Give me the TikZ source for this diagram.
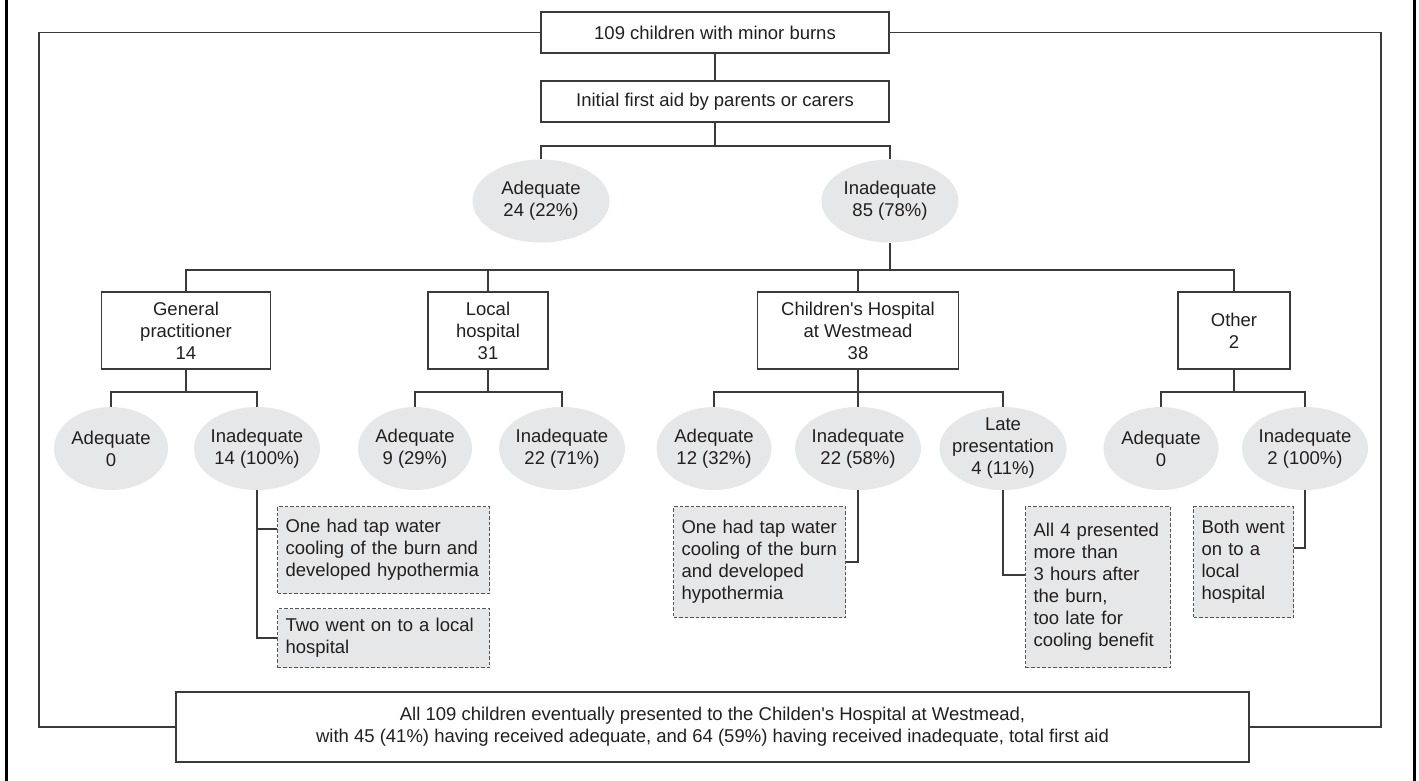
\documentclass[tikz,border=0pt]{standalone}
\usepackage{fontspec}
\setmainfont{Liberation Sans}
\usetikzlibrary{shapes.geometric}
\definecolor{linec}{HTML}{3A3A3A}
\definecolor{fillg}{HTML}{E6E7E8}
\definecolor{txtc}{HTML}{231F20}
\definecolor{dashc}{HTML}{555555}
\begin{document}
\begin{tikzpicture}[x=1pt,y=-1pt,
  every node/.style={font=\fontsize{18.5}{22}\selectfont, text=txtc},
  box/.style={rectangle, draw=linec, line width=1.5pt, fill=white, inner sep=0pt, align=center},
  oval/.style={ellipse, fill=fillg, inner sep=-6pt, minimum height=83pt, align=center},
  note/.style={rectangle, draw=dashc, line width=1.1pt, dash pattern=on 3.5pt off 2pt, fill=fillg, inner xsep=8pt, inner ysep=0pt, align=left, anchor=north west},
  conn/.style={draw=linec, line width=1.3pt},
  loopline/.style={draw=linec, line width=1.8pt},
]
\useasboundingbox (0,0) rectangle (1419,781);
\fill[white] (0,0) rectangle (1419,781);

% outer frame
\draw[black, line width=3pt] (6,0) -- (6,781);
\draw[black, line width=3pt] (1414.5,0) -- (1414.5,781);

% top boxes
\node[box, minimum width=348pt, minimum height=41pt] (top) at (715,32.5) {109 children with minor burns};
\node[box, minimum width=348pt, minimum height=41pt] (first) at (715,101.5) {Initial first aid by parents or carers};

% level 1 ovals
\node[oval, minimum width=137pt] (adq) at (541,201) {Adequate\\24 (22\%)};
\node[oval, minimum width=137pt] (inadq) at (890,201) {Inadequate\\85 (78\%)};

% destination boxes
\node[box, minimum width=169pt, minimum height=77pt] (gp) at (186,330.5) {General\\practitioner\\14};
\node[box, minimum width=120pt, minimum height=77pt] (lh) at (488,330.5) {Local\\hospital\\31};
\node[box, minimum width=201pt, minimum height=77pt] (chw) at (858,330.5) {Children\textquotesingle s Hospital\\at Westmead\\38};
\node[box, minimum width=112pt, minimum height=77pt] (oth) at (1234,330.5) {Other\\2};

% level 2 ovals
\node[oval, minimum width=114pt] (gpA) at (111,448.5) {Adequate\\0};
\node[oval, minimum width=126pt] (gpI) at (257,448.5) {Inadequate\\14 (100\%)};
\node[oval, minimum width=114pt] (lhA) at (415,448.5) {Adequate\\9 (29\%)};
\node[oval, minimum width=126pt] (lhI) at (562,448.5) {Inadequate\\22 (71\%)};
\node[oval, minimum width=115pt] (chA) at (714,448.5) {Adequate\\12 (32\%)};
\node[oval, minimum width=126pt] (chI) at (858,448.5) {Inadequate\\22 (58\%)};
\node[oval, minimum width=126pt] (chL) at (1003,448.5) {Late\\presentation\\4 (11\%)};
\node[oval, minimum width=115pt] (otA) at (1161,448.5) {Adequate\\0};
\node[oval, minimum width=126pt] (otI) at (1305,448.5) {Inadequate\\2 (100\%)};

% notes
\node[note, text width=196pt, minimum height=87pt] (n1) at (277,506) {One had tap water\\cooling of the burn and\\developed hypothermia};
\node[note, text width=196pt, minimum height=59pt] (n2) at (277,608) {Two went on to a local\\hospital};
\node[note, text width=156pt, minimum height=111pt] (n3) at (673,506) {One had tap water\\cooling of the burn\\and developed\\hypothermia};
\node[note, text width=129pt, minimum height=161pt] (n4) at (1025,506) {All 4 presented\\more than\\3 hours after\\the burn,\\too late for\\cooling benefit};
\node[note, text width=84pt, minimum height=111pt] (n5) at (1193,506) {Both went\\on to a\\local\\hospital};

% final box
\node[box, minimum width=1073pt, minimum height=70pt] (fin) at (712.5,727) {All 109 children eventually presented to the Childen\textquotesingle s Hospital at Westmead,\\with 45 (41\%) having received adequate, and 64 (59\%) having received inadequate, total first aid};

% junctions
\coordinate (j1) at (715,146);
\coordinate (j2) at (890,270);
\coordinate (jg) at (186,392);
\coordinate (jl) at (488,392);
\coordinate (jc) at (858,392);
\coordinate (jo) at (1234,392);
\coordinate (lb) at (39,727);
\coordinate (rb) at (1381,727);

% connectors
\draw[conn] (top.south) -- (first.north);
\draw[conn] (first.south) -- (j1);
\draw[conn] (adq.north) |- (j1) -| (inadq.north);
\draw[conn] (inadq.south) -- (j2);
\draw[conn] (gp.north) |- (j2) -| (oth.north);
\draw[conn] (lh.north) -- (lh.north |- j2);
\draw[conn] (chw.north) -- (chw.north |- j2);

\draw[conn] (gp.south) -- (jg);
\draw[conn] (gpA.north) |- (jg) -| (gpI.north);
\draw[conn] (lh.south) -- (jl);
\draw[conn] (lhA.north) |- (jl) -| (lhI.north);
\draw[conn] (chw.south) -- (jc);
\draw[conn] (chA.north) |- (jc) -| (chL.north);
\draw[conn] (chI.north) -- (chI.north |- jc);
\draw[conn] (oth.south) -- (jo);
\draw[conn] (otA.north) |- (jo) -| (otI.north);

\draw[conn] (gpI.south) |- ([yshift=-23pt]n1.north west);
\draw[conn] (gpI.south) |- (n2.west);
\draw[conn] (chI.south) |- (n3.east);
\draw[conn] (chL.south) |- ([yshift=-69pt]n4.north west);
\draw[conn] (otI.south) |- ([yshift=-42pt]n5.north east);

% loop to final box
\draw[loopline] (top.west) -| (lb) -- (fin.west);
\draw[loopline] (top.east) -| (rb) -- (fin.east);
\end{tikzpicture}
\end{document}
